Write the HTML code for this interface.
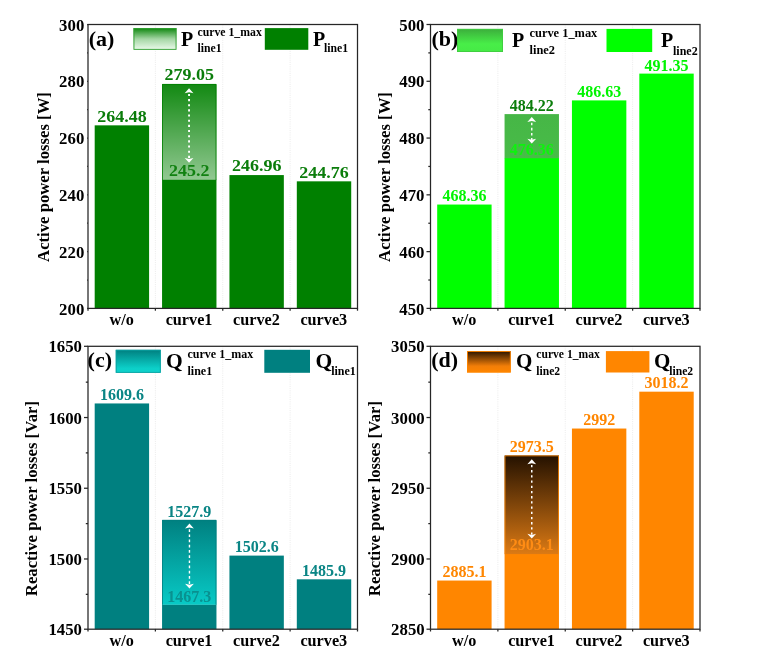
<!DOCTYPE html>
<html lang="en"><head><meta charset="utf-8"><title>Power losses</title>
<style>html,body{margin:0;padding:0;background:#fff}svg{display:block}text{font-family:"Liberation Serif", "DejaVu Serif", serif;font-weight:bold}</style></head><body>
<svg width="759" height="668" viewBox="0 0 759 668">
<rect width="759" height="668" fill="#fff"/>
<defs>
<linearGradient id="ga" x1="0" y1="0" x2="0" y2="1"><stop offset="0" stop-color="#008000" stop-opacity="0.93"/><stop offset="1" stop-color="#008000" stop-opacity="0.43"/></linearGradient>
<linearGradient id="la" x1="0" y1="0" x2="0" y2="1"><stop offset="0" stop-color="#0d860d" stop-opacity="1"/><stop offset="0.5" stop-color="#a4d6a4" stop-opacity="1"/><stop offset="1" stop-color="#ecfbec" stop-opacity="1"/></linearGradient>
<linearGradient id="gb" x1="0" y1="0" x2="0" y2="1"><stop offset="0" stop-color="#46b646" stop-opacity="1"/><stop offset="1" stop-color="#48bc48" stop-opacity="1"/></linearGradient>
<linearGradient id="lb" x1="0" y1="0" x2="0" y2="1"><stop offset="0" stop-color="#3cae3c" stop-opacity="1"/><stop offset="0.65" stop-color="#48ee48" stop-opacity="1"/><stop offset="1" stop-color="#46ea46" stop-opacity="1"/></linearGradient>
<linearGradient id="gc" x1="0" y1="0" x2="0" y2="1"><stop offset="0" stop-color="#008080" stop-opacity="1"/><stop offset="1" stop-color="#08cac6" stop-opacity="1"/></linearGradient>
<linearGradient id="lc" x1="0" y1="0" x2="0" y2="1"><stop offset="0" stop-color="#008080" stop-opacity="1"/><stop offset="0.8" stop-color="#0ccfc8" stop-opacity="1"/><stop offset="1" stop-color="#10d2cc" stop-opacity="1"/></linearGradient>
<linearGradient id="gd" x1="0" y1="0" x2="0" y2="1"><stop offset="0" stop-color="#241100" stop-opacity="1"/><stop offset="1" stop-color="#dc7a14" stop-opacity="1"/></linearGradient>
<linearGradient id="ld" x1="0" y1="0" x2="0" y2="1"><stop offset="0" stop-color="#2a1400" stop-opacity="1"/><stop offset="0.7" stop-color="#f27e08" stop-opacity="1"/><stop offset="1" stop-color="#ff8600" stop-opacity="1"/></linearGradient>
</defs>
<g id="panel-a">
<line x1="155.38" y1="24.50" x2="155.38" y2="308.40" stroke="#e6e6e6" stroke-width="0.8" stroke-dasharray="1 1.2"/>
<line x1="222.75" y1="24.50" x2="222.75" y2="308.40" stroke="#e6e6e6" stroke-width="0.8" stroke-dasharray="1 1.2"/>
<line x1="290.12" y1="24.50" x2="290.12" y2="308.40" stroke="#e6e6e6" stroke-width="0.8" stroke-dasharray="1 1.2"/>
<rect x="94.69" y="125.34" width="54.40" height="183.06" fill="#008000"/>
<rect x="162.06" y="179.78" width="54.40" height="128.62" fill="#008000"/>
<rect x="229.44" y="175.08" width="54.40" height="133.32" fill="#008000"/>
<rect x="296.81" y="181.33" width="54.40" height="127.07" fill="#008000"/>
<text transform="translate(121.89 121.74) scale(1 0.930)" font-size="18" text-anchor="middle" fill="#0b7d0b">264.48</text>
<text transform="translate(256.64 171.48) scale(1 0.930)" font-size="18" text-anchor="middle" fill="#0b7d0b">246.96</text>
<text transform="translate(324.01 177.73) scale(1 0.930)" font-size="18" text-anchor="middle" fill="#0b7d0b">244.76</text>
<rect x="162.06" y="83.98" width="54.40" height="96.10" fill="url(#ga)"/>
<path d="M162.51 180.08 V84.43 H216.01 V180.08" fill="none" stroke="#008000" stroke-opacity="0.9" stroke-width="0.9"/>
<text transform="translate(189.26 176.48) scale(1 0.930)" font-size="18" text-anchor="middle" fill="#0b7d0b" fill-opacity="0.95">245.2</text>
<text transform="translate(189.26 80.38) scale(1 0.930)" font-size="18" text-anchor="middle" fill="#0b7d0b">279.05</text>
<g fill="#fff" stroke="none">
<line x1="189.06" y1="93.88" x2="189.06" y2="159.38" stroke="#fff" stroke-width="1.9" stroke-dasharray="2.1 3.06"/>
<path d="M189.06 88.28 L193.46 93.28 L189.06 92.18 L184.66 93.28 Z"/>
<path d="M189.06 162.78 L193.46 157.98 L189.06 159.08 L184.66 157.98 Z"/>
</g>
<rect x="88.00" y="24.50" width="269.50" height="283.90" fill="none" stroke="#262626" stroke-width="1.25"/>
<line x1="87.20" y1="308.40" x2="88.00" y2="308.40" stroke="#262626" stroke-width="1.25"/>
<text transform="translate(84.30 314.50) scale(1 1.050)" font-size="16.8" text-anchor="end" fill="#000">200</text>
<line x1="87.20" y1="280.01" x2="88.00" y2="280.01" stroke="#262626" stroke-width="1.25"/>
<line x1="87.20" y1="251.62" x2="88.00" y2="251.62" stroke="#262626" stroke-width="1.25"/>
<text transform="translate(84.30 257.72) scale(1 1.050)" font-size="16.8" text-anchor="end" fill="#000">220</text>
<line x1="87.20" y1="223.23" x2="88.00" y2="223.23" stroke="#262626" stroke-width="1.25"/>
<line x1="87.20" y1="194.84" x2="88.00" y2="194.84" stroke="#262626" stroke-width="1.25"/>
<text transform="translate(84.30 200.94) scale(1 1.050)" font-size="16.8" text-anchor="end" fill="#000">240</text>
<line x1="87.20" y1="166.45" x2="88.00" y2="166.45" stroke="#262626" stroke-width="1.25"/>
<line x1="87.20" y1="138.06" x2="88.00" y2="138.06" stroke="#262626" stroke-width="1.25"/>
<text transform="translate(84.30 144.16) scale(1 1.050)" font-size="16.8" text-anchor="end" fill="#000">260</text>
<line x1="87.20" y1="109.67" x2="88.00" y2="109.67" stroke="#262626" stroke-width="1.25"/>
<line x1="87.20" y1="81.28" x2="88.00" y2="81.28" stroke="#262626" stroke-width="1.25"/>
<text transform="translate(84.30 87.38) scale(1 1.050)" font-size="16.8" text-anchor="end" fill="#000">280</text>
<line x1="87.20" y1="52.89" x2="88.00" y2="52.89" stroke="#262626" stroke-width="1.25"/>
<line x1="87.20" y1="24.50" x2="88.00" y2="24.50" stroke="#262626" stroke-width="1.25"/>
<text transform="translate(84.30 30.60) scale(1 1.050)" font-size="16.8" text-anchor="end" fill="#000">300</text>
<line x1="88.00" y1="308.40" x2="88.00" y2="310.70" stroke="#262626" stroke-width="1.25"/>
<line x1="155.38" y1="308.40" x2="155.38" y2="310.70" stroke="#262626" stroke-width="1.25"/>
<line x1="222.75" y1="308.40" x2="222.75" y2="310.70" stroke="#262626" stroke-width="1.25"/>
<line x1="290.12" y1="308.40" x2="290.12" y2="310.70" stroke="#262626" stroke-width="1.25"/>
<line x1="357.50" y1="308.40" x2="357.50" y2="310.70" stroke="#262626" stroke-width="1.25"/>
<text x="121.69" y="325.40" font-size="16.2" text-anchor="middle" fill="#000">w/o</text>
<text x="189.06" y="325.40" font-size="16.2" text-anchor="middle" fill="#000">curve1</text>
<text x="256.44" y="325.40" font-size="16.2" text-anchor="middle" fill="#000">curve2</text>
<text x="323.81" y="325.40" font-size="16.2" text-anchor="middle" fill="#000">curve3</text>
<text transform="translate(49.00 177.00) rotate(-90)" font-size="16.7" text-anchor="middle" fill="#000">Active power losses [W]</text>
<text x="88.70" y="46.00" font-size="22" fill="#000">(a)</text>
<rect x="133.50" y="28.10" width="43.00" height="21.70" fill="url(#la)"/>
<rect x="133.95" y="28.55" width="42.10" height="20.80" fill="none" stroke="#2e9e2e" stroke-width="0.9"/>
<rect x="264.80" y="28.10" width="43.50" height="21.70" fill="#008000"/>
<text x="181.00" y="45.50" font-size="20" fill="#000">P</text>
<text x="197.50" y="36.00" font-size="11.75" fill="#000">curve 1_max</text>
<text x="197.50" y="52.00" font-size="11.75" fill="#000">line1</text>
<text x="313.00" y="45.50" font-size="20" fill="#000">P</text>
<text x="324.00" y="52.00" font-size="11.75" fill="#000">line1</text>
</g>
<g id="panel-b">
<line x1="497.88" y1="24.50" x2="497.88" y2="308.40" stroke="#e6e6e6" stroke-width="0.8" stroke-dasharray="1 1.2"/>
<line x1="565.25" y1="24.50" x2="565.25" y2="308.40" stroke="#e6e6e6" stroke-width="0.8" stroke-dasharray="1 1.2"/>
<line x1="632.62" y1="24.50" x2="632.62" y2="308.40" stroke="#e6e6e6" stroke-width="0.8" stroke-dasharray="1 1.2"/>
<rect x="437.19" y="204.55" width="54.40" height="103.85" fill="#00ff00"/>
<rect x="504.56" y="157.93" width="54.40" height="150.47" fill="#00ff00"/>
<rect x="571.94" y="100.41" width="54.40" height="207.99" fill="#00ff00"/>
<rect x="639.31" y="73.61" width="54.40" height="234.79" fill="#00ff00"/>
<text x="464.39" y="201.45" font-size="16" text-anchor="middle" fill="#00f400">468.36</text>
<text x="599.14" y="97.31" font-size="16" text-anchor="middle" fill="#00f400">486.63</text>
<text x="666.51" y="70.51" font-size="16" text-anchor="middle" fill="#00f400">491.35</text>
<rect x="504.56" y="114.10" width="54.40" height="44.13" fill="url(#gb)"/>
<path d="M505.01 158.23 V114.55 H558.51 V158.23" fill="none" stroke="#00ff00" stroke-opacity="0" stroke-width="0.9"/>
<text x="531.76" y="154.73" font-size="16" text-anchor="middle" fill="#00ff00" fill-opacity="0.82">476.36</text>
<text x="531.76" y="111.00" font-size="16" text-anchor="middle" fill="#0b7d0b">484.22</text>
<g fill="#fff" stroke="none">
<line x1="531.76" y1="122.70" x2="531.76" y2="140.03" stroke="#fff" stroke-width="1.4" stroke-dasharray="2.6 2.5"/>
<path d="M531.76 117.10 L536.16 122.10 L531.76 121.00 L527.36 122.10 Z"/>
<path d="M531.76 143.43 L536.16 138.63 L531.76 139.73 L527.36 138.63 Z"/>
</g>
<rect x="430.50" y="24.50" width="269.50" height="283.90" fill="none" stroke="#262626" stroke-width="1.25"/>
<line x1="426.50" y1="308.40" x2="430.50" y2="308.40" stroke="#262626" stroke-width="1.25"/>
<text transform="translate(424.50 314.50) scale(1 1.050)" font-size="16.8" text-anchor="end" fill="#000">450</text>
<line x1="428.30" y1="280.01" x2="430.50" y2="280.01" stroke="#262626" stroke-width="1.25"/>
<line x1="426.50" y1="251.62" x2="430.50" y2="251.62" stroke="#262626" stroke-width="1.25"/>
<text transform="translate(424.50 257.72) scale(1 1.050)" font-size="16.8" text-anchor="end" fill="#000">460</text>
<line x1="428.30" y1="223.23" x2="430.50" y2="223.23" stroke="#262626" stroke-width="1.25"/>
<line x1="426.50" y1="194.84" x2="430.50" y2="194.84" stroke="#262626" stroke-width="1.25"/>
<text transform="translate(424.50 200.94) scale(1 1.050)" font-size="16.8" text-anchor="end" fill="#000">470</text>
<line x1="428.30" y1="166.45" x2="430.50" y2="166.45" stroke="#262626" stroke-width="1.25"/>
<line x1="426.50" y1="138.06" x2="430.50" y2="138.06" stroke="#262626" stroke-width="1.25"/>
<text transform="translate(424.50 144.16) scale(1 1.050)" font-size="16.8" text-anchor="end" fill="#000">480</text>
<line x1="428.30" y1="109.67" x2="430.50" y2="109.67" stroke="#262626" stroke-width="1.25"/>
<line x1="426.50" y1="81.28" x2="430.50" y2="81.28" stroke="#262626" stroke-width="1.25"/>
<text transform="translate(424.50 87.38) scale(1 1.050)" font-size="16.8" text-anchor="end" fill="#000">490</text>
<line x1="428.30" y1="52.89" x2="430.50" y2="52.89" stroke="#262626" stroke-width="1.25"/>
<line x1="426.50" y1="24.50" x2="430.50" y2="24.50" stroke="#262626" stroke-width="1.25"/>
<text transform="translate(424.50 30.60) scale(1 1.050)" font-size="16.8" text-anchor="end" fill="#000">500</text>
<line x1="430.50" y1="308.40" x2="430.50" y2="310.70" stroke="#262626" stroke-width="1.25"/>
<line x1="497.88" y1="308.40" x2="497.88" y2="310.70" stroke="#262626" stroke-width="1.25"/>
<line x1="565.25" y1="308.40" x2="565.25" y2="310.70" stroke="#262626" stroke-width="1.25"/>
<line x1="632.62" y1="308.40" x2="632.62" y2="310.70" stroke="#262626" stroke-width="1.25"/>
<line x1="700.00" y1="308.40" x2="700.00" y2="310.70" stroke="#262626" stroke-width="1.25"/>
<text x="464.19" y="325.40" font-size="16.2" text-anchor="middle" fill="#000">w/o</text>
<text x="531.56" y="325.40" font-size="16.2" text-anchor="middle" fill="#000">curve1</text>
<text x="598.94" y="325.40" font-size="16.2" text-anchor="middle" fill="#000">curve2</text>
<text x="666.31" y="325.40" font-size="16.2" text-anchor="middle" fill="#000">curve3</text>
<text transform="translate(389.70 177.00) rotate(-90)" font-size="16.7" text-anchor="middle" fill="#000">Active power losses [W]</text>
<text x="431.40" y="45.50" font-size="22" fill="#000">(b)</text>
<rect x="457.00" y="28.90" width="46.00" height="23.10" fill="url(#lb)"/>
<rect x="457.45" y="29.35" width="45.10" height="22.20" fill="none" stroke="#40cc40" stroke-width="0.9"/>
<rect x="606.50" y="28.90" width="45.70" height="23.10" fill="#00ff00"/>
<text x="512.00" y="46.80" font-size="20" fill="#000">P</text>
<text x="529.50" y="36.80" font-size="12.4" fill="#000">curve 1_max</text>
<text x="529.50" y="54.20" font-size="12.4" fill="#000">line2</text>
<text x="661.00" y="46.80" font-size="20" fill="#000">P</text>
<text x="673.00" y="55.10" font-size="12" fill="#000">line2</text>
</g>
<g id="panel-c">
<line x1="155.38" y1="346.30" x2="155.38" y2="629.20" stroke="#e6e6e6" stroke-width="0.8" stroke-dasharray="1 1.2"/>
<line x1="222.75" y1="346.30" x2="222.75" y2="629.20" stroke="#e6e6e6" stroke-width="0.8" stroke-dasharray="1 1.2"/>
<line x1="290.12" y1="346.30" x2="290.12" y2="629.20" stroke="#e6e6e6" stroke-width="0.8" stroke-dasharray="1 1.2"/>
<rect x="94.69" y="403.45" width="54.40" height="225.75" fill="#008080"/>
<rect x="162.06" y="604.43" width="54.40" height="24.77" fill="#008080"/>
<rect x="229.44" y="555.60" width="54.40" height="73.60" fill="#008080"/>
<rect x="296.81" y="579.32" width="54.40" height="49.88" fill="#008080"/>
<text x="121.89" y="400.25" font-size="16" text-anchor="middle" fill="#0a8585">1609.6</text>
<text x="256.64" y="552.40" font-size="16" text-anchor="middle" fill="#0a8585">1502.6</text>
<text x="324.01" y="576.12" font-size="16" text-anchor="middle" fill="#0a8585">1485.9</text>
<rect x="162.06" y="519.91" width="54.40" height="84.82" fill="url(#gc)"/>
<path d="M162.51 604.73 V520.36 H216.01 V604.73" fill="none" stroke="#008080" stroke-opacity="0.9" stroke-width="0.9"/>
<text x="189.26" y="601.53" font-size="16" text-anchor="middle" fill="#0a8585" fill-opacity="0.8">1467.3</text>
<text x="189.26" y="516.71" font-size="16" text-anchor="middle" fill="#0a8585">1527.9</text>
<g fill="#fff" stroke="none">
<line x1="189.46" y1="529.21" x2="189.46" y2="585.03" stroke="#fff" stroke-width="1.4" stroke-dasharray="2.7 2.5"/>
<path d="M189.46 523.61 L193.86 528.61 L189.46 527.51 L185.06 528.61 Z"/>
<path d="M189.46 588.43 L193.86 583.63 L189.46 584.73 L185.06 583.63 Z"/>
</g>
<rect x="88.00" y="346.30" width="269.50" height="282.90" fill="none" stroke="#262626" stroke-width="1.25"/>
<line x1="84.00" y1="629.20" x2="88.00" y2="629.20" stroke="#262626" stroke-width="1.25"/>
<text transform="translate(82.00 635.30) scale(1 1.050)" font-size="16.8" text-anchor="end" fill="#000">1450</text>
<line x1="85.80" y1="594.34" x2="88.00" y2="594.34" stroke="#262626" stroke-width="1.25"/>
<line x1="84.00" y1="558.98" x2="88.00" y2="558.98" stroke="#262626" stroke-width="1.25"/>
<text transform="translate(82.00 565.08) scale(1 1.050)" font-size="16.8" text-anchor="end" fill="#000">1500</text>
<line x1="85.80" y1="523.61" x2="88.00" y2="523.61" stroke="#262626" stroke-width="1.25"/>
<line x1="84.00" y1="488.25" x2="88.00" y2="488.25" stroke="#262626" stroke-width="1.25"/>
<text transform="translate(82.00 494.35) scale(1 1.050)" font-size="16.8" text-anchor="end" fill="#000">1550</text>
<line x1="85.80" y1="452.89" x2="88.00" y2="452.89" stroke="#262626" stroke-width="1.25"/>
<line x1="84.00" y1="417.53" x2="88.00" y2="417.53" stroke="#262626" stroke-width="1.25"/>
<text transform="translate(82.00 423.63) scale(1 1.050)" font-size="16.8" text-anchor="end" fill="#000">1600</text>
<line x1="85.80" y1="382.16" x2="88.00" y2="382.16" stroke="#262626" stroke-width="1.25"/>
<line x1="84.00" y1="346.30" x2="88.00" y2="346.30" stroke="#262626" stroke-width="1.25"/>
<text transform="translate(82.00 352.40) scale(1 1.050)" font-size="16.8" text-anchor="end" fill="#000">1650</text>
<line x1="88.00" y1="629.20" x2="88.00" y2="631.50" stroke="#262626" stroke-width="1.25"/>
<line x1="155.38" y1="629.20" x2="155.38" y2="631.50" stroke="#262626" stroke-width="1.25"/>
<line x1="222.75" y1="629.20" x2="222.75" y2="631.50" stroke="#262626" stroke-width="1.25"/>
<line x1="290.12" y1="629.20" x2="290.12" y2="631.50" stroke="#262626" stroke-width="1.25"/>
<line x1="357.50" y1="629.20" x2="357.50" y2="631.50" stroke="#262626" stroke-width="1.25"/>
<text x="121.69" y="646.20" font-size="16.2" text-anchor="middle" fill="#000">w/o</text>
<text x="189.06" y="646.20" font-size="16.2" text-anchor="middle" fill="#000">curve1</text>
<text x="256.44" y="646.20" font-size="16.2" text-anchor="middle" fill="#000">curve2</text>
<text x="323.81" y="646.20" font-size="16.2" text-anchor="middle" fill="#000">curve3</text>
<text transform="translate(37.40 498.60) rotate(-90)" font-size="16.7" text-anchor="middle" fill="#000">Reactive power losses [Var]</text>
<text x="87.60" y="367.00" font-size="22" fill="#000">(c)</text>
<rect x="115.75" y="349.80" width="45.00" height="23.00" fill="url(#lc)"/>
<rect x="116.20" y="350.25" width="44.10" height="22.10" fill="none" stroke="#0aa0a0" stroke-width="0.9"/>
<rect x="264.30" y="349.80" width="45.70" height="23.00" fill="#008080"/>
<text x="166.00" y="367.90" font-size="21.5" fill="#000">Q</text>
<text x="187.50" y="357.50" font-size="12" fill="#000">curve 1_max</text>
<text x="187.50" y="374.70" font-size="12" fill="#000">line1</text>
<text x="315.50" y="367.90" font-size="21.5" fill="#000">Q</text>
<text x="331.20" y="374.70" font-size="12" fill="#000">line1</text>
</g>
<g id="panel-d">
<line x1="497.88" y1="346.30" x2="497.88" y2="629.20" stroke="#e6e6e6" stroke-width="0.8" stroke-dasharray="1 1.2"/>
<line x1="565.25" y1="346.30" x2="565.25" y2="629.20" stroke="#e6e6e6" stroke-width="0.8" stroke-dasharray="1 1.2"/>
<line x1="632.62" y1="346.30" x2="632.62" y2="629.20" stroke="#e6e6e6" stroke-width="0.8" stroke-dasharray="1 1.2"/>
<rect x="437.19" y="580.55" width="54.40" height="48.65" fill="#ff8600"/>
<rect x="504.56" y="553.79" width="54.40" height="75.41" fill="#ff8600"/>
<rect x="571.94" y="428.54" width="54.40" height="200.66" fill="#ff8600"/>
<rect x="639.31" y="391.68" width="54.40" height="237.52" fill="#ff8600"/>
<text x="464.39" y="576.85" font-size="16" text-anchor="middle" fill="#ff8600">2885.1</text>
<text x="599.14" y="424.84" font-size="16" text-anchor="middle" fill="#ff8600">2992</text>
<text x="666.51" y="387.98" font-size="16" text-anchor="middle" fill="#ff8600">3018.2</text>
<rect x="504.56" y="455.41" width="54.40" height="98.68" fill="url(#gd)"/>
<path d="M505.01 554.09 V455.86 H558.51 V554.09" fill="none" stroke="#ff8600" stroke-opacity="0.9" stroke-width="0.9"/>
<text x="531.76" y="550.39" font-size="16" text-anchor="middle" fill="#ff8c14" fill-opacity="1">2903.1</text>
<text x="531.76" y="451.71" font-size="16" text-anchor="middle" fill="#ff8600">2973.5</text>
<g fill="#fff" stroke="none">
<line x1="531.76" y1="464.91" x2="531.76" y2="535.19" stroke="#fff" stroke-width="1.5" stroke-dasharray="2.3 2.9"/>
<path d="M531.76 459.31 L536.16 464.31 L531.76 463.21 L527.36 464.31 Z"/>
<path d="M531.76 538.59 L536.16 533.79 L531.76 534.89 L527.36 533.79 Z"/>
</g>
<rect x="430.50" y="346.30" width="269.50" height="282.90" fill="none" stroke="#262626" stroke-width="1.25"/>
<line x1="426.50" y1="629.20" x2="430.50" y2="629.20" stroke="#262626" stroke-width="1.25"/>
<text transform="translate(424.70 635.30) scale(1 1.050)" font-size="16.8" text-anchor="end" fill="#000">2850</text>
<line x1="428.30" y1="594.34" x2="430.50" y2="594.34" stroke="#262626" stroke-width="1.25"/>
<line x1="426.50" y1="558.98" x2="430.50" y2="558.98" stroke="#262626" stroke-width="1.25"/>
<text transform="translate(424.70 565.08) scale(1 1.050)" font-size="16.8" text-anchor="end" fill="#000">2900</text>
<line x1="428.30" y1="523.61" x2="430.50" y2="523.61" stroke="#262626" stroke-width="1.25"/>
<line x1="426.50" y1="488.25" x2="430.50" y2="488.25" stroke="#262626" stroke-width="1.25"/>
<text transform="translate(424.70 494.35) scale(1 1.050)" font-size="16.8" text-anchor="end" fill="#000">2950</text>
<line x1="428.30" y1="452.89" x2="430.50" y2="452.89" stroke="#262626" stroke-width="1.25"/>
<line x1="426.50" y1="417.53" x2="430.50" y2="417.53" stroke="#262626" stroke-width="1.25"/>
<text transform="translate(424.70 423.63) scale(1 1.050)" font-size="16.8" text-anchor="end" fill="#000">3000</text>
<line x1="428.30" y1="382.16" x2="430.50" y2="382.16" stroke="#262626" stroke-width="1.25"/>
<line x1="426.50" y1="346.30" x2="430.50" y2="346.30" stroke="#262626" stroke-width="1.25"/>
<text transform="translate(424.70 352.40) scale(1 1.050)" font-size="16.8" text-anchor="end" fill="#000">3050</text>
<line x1="430.50" y1="629.20" x2="430.50" y2="631.50" stroke="#262626" stroke-width="1.25"/>
<line x1="497.88" y1="629.20" x2="497.88" y2="631.50" stroke="#262626" stroke-width="1.25"/>
<line x1="565.25" y1="629.20" x2="565.25" y2="631.50" stroke="#262626" stroke-width="1.25"/>
<line x1="632.62" y1="629.20" x2="632.62" y2="631.50" stroke="#262626" stroke-width="1.25"/>
<line x1="700.00" y1="629.20" x2="700.00" y2="631.50" stroke="#262626" stroke-width="1.25"/>
<text x="464.19" y="646.20" font-size="16.2" text-anchor="middle" fill="#000">w/o</text>
<text x="531.56" y="646.20" font-size="16.2" text-anchor="middle" fill="#000">curve1</text>
<text x="598.94" y="646.20" font-size="16.2" text-anchor="middle" fill="#000">curve2</text>
<text x="666.31" y="646.20" font-size="16.2" text-anchor="middle" fill="#000">curve3</text>
<text transform="translate(379.70 498.60) rotate(-90)" font-size="16.7" text-anchor="middle" fill="#000">Reactive power losses [Var]</text>
<text x="431.30" y="367.30" font-size="22" fill="#000">(d)</text>
<rect x="467.00" y="351.10" width="43.75" height="21.40" fill="url(#ld)"/>
<rect x="467.45" y="351.55" width="42.85" height="20.50" fill="none" stroke="#ff8600" stroke-width="0.9"/>
<rect x="605.90" y="351.10" width="43.50" height="21.40" fill="#ff8600"/>
<text x="516.00" y="367.80" font-size="21" fill="#000">Q</text>
<text x="536.30" y="358.30" font-size="11.6" fill="#000">curve 1_max</text>
<text x="536.30" y="375.20" font-size="11.6" fill="#000">line2</text>
<text x="654.00" y="367.80" font-size="21" fill="#000">Q</text>
<text x="669.30" y="375.20" font-size="11.6" fill="#000">line2</text>
</g>
</svg></body></html>
